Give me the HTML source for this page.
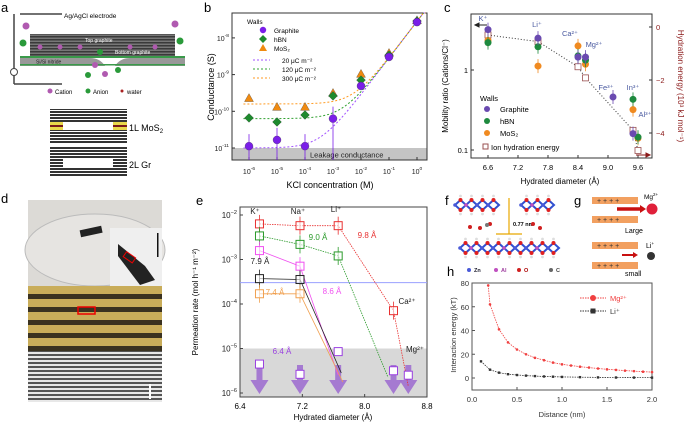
<!DOCTYPE html>
<html><head><meta charset="utf-8"><style>
html,body{margin:0;padding:0;background:#fff;}
svg{display:block;font-family:"Liberation Sans",sans-serif;}
text{font-family:"Liberation Sans",sans-serif;}
</style></head><body>
<svg id="fig" width="685" height="423" viewBox="0 0 685 423" xmlns="http://www.w3.org/2000/svg">
<defs>
<pattern id="stripes" width="4" height="3" patternUnits="userSpaceOnUse"><rect width="4" height="3" fill="#fff"/><rect width="4" height="2" fill="#333"/></pattern>
<pattern id="gstripes" width="3" height="3" patternUnits="userSpaceOnUse"><rect width="3" height="3" fill="#777"/><rect width="3" height="1.5" fill="#3a3a3a"/></pattern>
<pattern id="gold" width="134" height="13" patternUnits="userSpaceOnUse"><rect width="134" height="13" fill="#c9ad5a"/><rect y="8" width="134" height="5" fill="#3a3220"/></pattern>
<pattern id="sem" width="134" height="4" patternUnits="userSpaceOnUse"><rect width="134" height="4" fill="#e8e8e8"/><rect y="2" width="134" height="2" fill="#555"/></pattern>
</defs>

<g font-size="13">
<text x="1" y="12">a</text>
<text x="204" y="12">b</text>
<text x="444" y="12">c</text>
<text x="1" y="203">d</text>
<text x="196" y="205">e</text>
<text x="445" y="205">f</text>
<text x="574" y="205">g</text>
<text x="447" y="276">h</text>
</g>

<g>
<path d="M20,14 H62 M14,14 V84 M14,84 H62" stroke="#444" stroke-width="1.5" fill="none"/>
<text x="64" y="18" font-size="6.5">Ag/AgCl electrode</text>
<rect x="30" y="34" width="145" height="13" fill="url(#gstripes)"/>
<text x="85" y="42" font-size="5" fill="#fff">Top graphite</text>
<rect x="30" y="47" width="145" height="9" fill="url(#gstripes)"/>
<text x="115" y="54" font-size="5" fill="#fff">Bottom graphite</text>
<rect x="20" y="56" width="165" height="2" fill="#3a9a4a"/>
<path d="M20,58 H90 Q100,58 105,66 H20z M115,66 Q120,58 130,58 H185 V66z" fill="#999"/>
<rect x="20" y="64" width="165" height="1.5" fill="#3a9a4a"/>
<text x="36" y="63.5" font-size="5" fill="#222">Si/Si nitride</text>
<circle cx="14" cy="72" r="3.5" fill="#fff" stroke="#444"/>
<circle cx="26" cy="26" r="3.5" fill="#b05ab0"/><circle cx="175" cy="24" r="3.5" fill="#b05ab0"/>
<circle cx="23" cy="43" r="3.5" fill="#2a9a3a"/><circle cx="180" cy="41" r="3.5" fill="#2a9a3a"/>
<circle cx="100" cy="52" r="3" fill="#2a9a3a"/><circle cx="95" cy="65" r="3" fill="#b05ab0"/><circle cx="105" cy="74" r="3" fill="#b05ab0"/><circle cx="88" cy="75" r="3" fill="#2a9a3a"/><circle cx="118" cy="70" r="3" fill="#2a9a3a"/>
<g fill="#b05ab0"><circle cx="40" cy="47" r="2.5"/><circle cx="60" cy="47" r="2.5"/><circle cx="80" cy="47" r="2.5"/><circle cx="130" cy="47" r="2.5"/><circle cx="155" cy="47" r="2.5"/></g>
<circle cx="50" cy="91" r="2.5" fill="#b05ab0"/><text x="55" y="94" font-size="6">Cation</text>
<circle cx="88" cy="91" r="2.5" fill="#2a9a3a"/><text x="93" y="94" font-size="6">Anion</text>
<circle cx="122" cy="91" r="1.5" fill="#a22"/><text x="127" y="94" font-size="6">water</text>
<rect x="50" y="109" width="77" height="34" fill="url(#stripes)"/>
<rect x="63" y="122" width="50" height="8" fill="#fff"/>
<rect x="50" y="122" width="13" height="8" fill="#e8d84a"/><rect x="113" y="122" width="14" height="8" fill="#e8d84a"/>
<rect x="50" y="125" width="13" height="2" fill="#7a1a1a"/><rect x="113" y="125" width="14" height="2" fill="#7a1a1a"/>
<text x="129" y="131" font-size="9">1L MoS<tspan font-size="6" dy="2">2</tspan></text>
<rect x="50" y="147" width="77" height="30" fill="url(#stripes)"/>
<rect x="63" y="158" width="50" height="9" fill="#fff"/>
<text x="129" y="168" font-size="9">2L Gr</text>
</g>

<g>
<rect x="28" y="200" width="134" height="86" fill="#dcdad6"/>
<ellipse cx="95" cy="250" rx="70" ry="36" fill="#e6e4e1" stroke="#bbb"/>
<rect x="80" y="228" width="22" height="7" fill="#222" transform="rotate(-12 91 231)"/>
<rect x="110" y="228" width="52" height="58" fill="#efefef"/>
<path d="M118,244 L145,266 L155,280 L140,285 L118,256z" fill="#222"/>
<rect x="124" y="254" width="11" height="6" fill="none" stroke="#e00" stroke-width="1" transform="rotate(35 129 257)"/>
<rect x="157" y="233" width="1.5" height="24" fill="#111"/>
<rect x="28" y="286" width="134" height="65" fill="url(#gold)"/>
<rect x="78" y="307" width="17" height="7" fill="none" stroke="#e00" stroke-width="1.5"/>
<rect x="28" y="351" width="134" height="51" fill="url(#sem)"/>
<rect x="149" y="384" width="2" height="15" fill="#fff"/>
</g>

<g id="panelF">
<path d="M509,198 V234 M496,234 H522" stroke="#e8a800" stroke-width="1.2" fill="none"/>
<text x="513" y="226" font-size="5.5" font-family="Liberation Serif" font-weight="bold">0.77 nm</text>
<g font-size="5.5" font-family="Liberation Serif" font-weight="bold">
<circle cx="469" cy="270" r="2" fill="#4a5ad8"/><text x="474" y="272" fill="#223">Zn</text>
<circle cx="496" cy="270" r="2" fill="#c050c0"/><text x="501" y="272" fill="#a040a0">Al</text>
<circle cx="519" cy="270" r="2" fill="#d02020"/><text x="524" y="272" fill="#a00">O</text>
<circle cx="551" cy="270" r="2" fill="#666"/><text x="556" y="272" fill="#444">C</text>
</g>
</g>

<g font-size="7">
<rect x="592" y="197" width="46" height="7" fill="#f2a060"/>
<text x="597" y="203" font-size="7" fill="#333">+ + + +</text>
<rect x="592" y="216" width="46" height="7" fill="#f2a060"/>
<text x="597" y="222" font-size="7" fill="#333">+ + + +</text>
<path d="M617,209 H641" stroke="#c81010" stroke-width="3.5"/><path d="M640,205 L646,209 L640,213z" fill="#c81010"/>
<circle cx="652" cy="209" r="5.5" fill="#e0203a"/>
<text x="644" y="199" font-size="6.5">Mg<tspan font-size="4.5" dy="-3">2+</tspan></text>
<text x="625" y="233">Large</text>
<rect x="592" y="242" width="46" height="7" fill="#f2a060"/><text x="597" y="248" font-size="7" fill="#333">+ + + +</text>
<rect x="592" y="262" width="46" height="7" fill="#f2a060"/><text x="597" y="268" font-size="7" fill="#333">+ + + +</text>
<path d="M622,255 H634" stroke="#c81010" stroke-width="2"/><path d="M633,252 L638,255 L633,258z" fill="#c81010"/>
<circle cx="651" cy="256" r="4" fill="#333"/>
<text x="646" y="248">Li<tspan font-size="4.5" dy="-3">+</tspan></text>
<text x="625" y="276">small</text>
</g>

<g id="chartB"></g>
<g id="chartC"></g>
<g id="chartE"></g>
<g id="chartH"></g>
</svg>

<script>
// ---------- Panel b data ----------
const bConc = [-6, -5, -4, -3, -2, -1, 0];
const bGraphite = [-10.95, -10.78, -10.95, -10.2, -9.31, -8.52, -7.57];
const bHBN = [-10.18, -10.29, -10.1, -9.58, -9.15, -8.47, -7.54];
const bMoS2 = [-9.64, -9.88, -9.88, -9.5, -8.98, -8.41, -7.52];
const bModelBase = [-11, -10.2, -9.8];
const bModelLabels = ["20 \u03bcC m\u207b\u00b2", "120 \u03bcC m\u207b\u00b2", "300 \u03bcC m\u207b\u00b2"];
const bBulk = -7.55;
const bYTicks = [-11, -10, -9, -8];
const bXTicks = [-6, -5, -4, -3, -2, -1, 0];

// ---------- Panel c data ----------
const cIons = ["K\u207a", "Li\u207a", "Ca\u00b2\u207a", "Mg\u00b2\u207a", "Fe\u00b3\u207a", "In\u00b3\u207a", "Al\u00b3\u207a"];
const cGraphX = [6.6, 7.6, 8.4, 8.55, 9.1, 9.5];
const cGraphY = [3.2, 2.5, 1.45, 1.45, 0.46, 0.16];
const cHbnX = [6.6, 7.6, 8.4, 8.55, 9.5, 9.6];
const cHbnY = [2.2, 1.95, 1.5, 1.33, 0.43, 0.145];
const cMosX = [6.6, 7.6, 8.4, 8.55, 9.5, 9.6];
const cMosY = [2.35, 1.12, 2.0, 1.18, 0.32, 0.14];
const cHydX = [6.6, 7.6, 8.4, 8.55, 9.5, 9.6];
const cHydE = [-0.3, -0.55, -1.5, -1.92, -3.9, -4.66];
const cXTicks = [6.6, 7.2, 7.8, 8.4, 9.0, 9.6];

// ---------- Panel e data ----------
const eIonX = [6.65, 7.17, 7.66, 8.37, 8.56];
const eRedY = [-2.2, -2.24, -2.24, -4.15, -5.85];
const eGreenY = [-2.47, -2.66, -2.92, -5.65];
const eMagY = [-2.8, -3.15, -5.6];
const eBlackY = [-3.43, -3.45, -5.55];
const eOrangeY = [-3.77, -3.77, -5.75];
const ePurpleY = [-5.35, -5.58, -5.07, -5.5, -5.6];
const eRefLine = -3.52;
const eXTicks = [6.4, 7.2, 8.0, 8.8];
const eYTicks = [-6, -5, -4, -3, -2];

// ---------- Panel h data ----------
const hMgX = [0.18, 0.2, 0.3, 0.4, 0.5, 0.6, 0.7, 0.8, 0.9, 1.0, 1.1, 1.2, 1.3, 1.4, 1.5, 1.6, 1.7, 1.8, 1.9, 2.0];
const hMgY = [78, 62, 41, 30, 24, 20, 17, 15, 13, 11.5, 10.5, 9.5, 8.8, 8, 7.3, 6.8, 6.2, 5.8, 5.3, 5];
const hLiX = [0.1, 0.2, 0.3, 0.4, 0.5, 0.6, 0.7, 0.8, 0.9, 1.0, 1.2, 1.4, 1.6, 1.8, 2.0];
const hLiY = [14, 7, 4.5, 3.2, 2.5, 2, 1.6, 1.3, 1.1, 0.9, 0.7, 0.5, 0.4, 0.35, 0.3];
const hXTicks = [0, 0.5, 1.0, 1.5, 2.0];
const hYTicks = [0, 20, 40, 60, 80];

const NS = "http://www.w3.org/2000/svg";
function mk(parent, tag, attrs, txt) {
  const el = document.createElementNS(NS, tag);
  for (const k in attrs) el.setAttribute(k, attrs[k]);
  if (txt !== undefined) el.textContent = txt;
  parent.appendChild(el);
  return el;
}
function sup(parent, x, y, base, exp, size, anchor, fill) {
  const t = mk(parent, "text", {x: x, y: y, "font-size": size, "text-anchor": anchor || "middle", fill: fill || "#222"});
  
  
  mk(t, "tspan", {}, base);
  mk(t, "tspan", {dy: -4, "font-size": size * 0.7}, exp);
  return t;
}

// ===== Panel b =====
(function(){
  const g = document.getElementById("chartB");
  const L = 232, R = 427, T = 13, B = 160;
  const xs = v => 249 + (v + 6) * 28;
  const ys = v => 148 - (v + 11) * 36.7;
  const lk = mk(g, "rect", {x: L, y: 148, width: R - L, height: B - 148, fill: "#c4c4c4"});
  
  
  const lt = mk(g, "text", {x: 310, y: 157.5, "font-size": 7.5, fill: "#222"}, "Leakage conductance");
  
  
  const fr = mk(g, "rect", {x: L, y: T, width: R - L, height: B - T, fill: "none", stroke: "#333", "stroke-width": 1});
  
  
  bYTicks.forEach(v => { mk(g, "line", {x1: L, x2: L + 3, y1: ys(v), y2: ys(v), stroke: "#333"}); sup(g, L - 3, ys(v) + 3, "10", String(v), 7, "end"); });
  bXTicks.forEach(v => { mk(g, "line", {x1: xs(v), x2: xs(v), y1: B, y2: B - 3, stroke: "#333"}); sup(g, xs(v), 174, "10", String(v), 7, "middle"); });
  const yl = mk(g, "text", {x: 0, y: 0, "font-size": 9, "text-anchor": "middle", transform: "translate(214,87) rotate(-90)"}, "Conductance (S)");
  
  
  const xl = mk(g, "text", {x: 330, y: 188, "font-size": 9, "text-anchor": "middle"}, "KCl concentration (M)");
  
  
  const cols = ["#a050ff", "#30a030", "#ff9a20"];
  bModelBase.forEach((b, i) => {
    let d = "";
    for (let c = -6.2; c <= 0.3; c += 0.05) {
      const val = Math.log10(Math.pow(10, b) + Math.pow(10, bBulk + c));
      d += (d ? "L" : "M") + xs(c).toFixed(1) + "," + Math.max(T, ys(val)).toFixed(1);
    }
    const p = mk(g, "path", {d: d, fill: "none", stroke: cols[i], "stroke-width": 1, "stroke-dasharray": "2,2"});
    
    
  });
  function series(arr, color, shape, name) {
    arr.forEach((v, i) => {
      const x = xs(bConc[i]), y = ys(v);
      let el;
      if (shape === "c") el = mk(g, "circle", {cx: x, cy: y, r: 4, fill: color, stroke: "#333", "stroke-width": 0.3});
      else if (shape === "d") el = mk(g, "path", {d: `M${x},${y-4.5}L${x+4.5},${y}L${x},${y+4.5}L${x-4.5},${y}z`, fill: color, stroke: "#333", "stroke-width": 0.3});
      else el = mk(g, "path", {d: `M${x},${y-4.5}L${x+4.5},${y+3.5}L${x-4.5},${y+3.5}z`, fill: color, stroke: "#333", "stroke-width": 0.3});
      
      
    });
  }
  series(bMoS2, "#f08a10", "t", "mos2-point");
  series(bHBN, "#1e8a2e", "d", "hbn-point");
  series(bGraphite, "#7a1ee8", "c", "graphite-point");
  [0,1,2,3].forEach(i => { const x = xs(bConc[i]); mk(g, "line", {x1: x, x2: x, y1: ys(bGraphite[i]) - 12, y2: B, stroke: "#7a1ee8", "stroke-width": 0.8}); });
  const lg = mk(g, "g", {"font-size": 6.5});
  
  
  mk(lg, "text", {x: 247, y: 24}, "Walls");
  const names = ["Graphite", "hBN", "MoS\u2082"];
  const lc = ["#7a1ee8", "#1e8a2e", "#f08a10"];
  names.forEach((n, i) => {
    const y = 32 + i * 9;
    if (i === 0) mk(lg, "circle", {cx: 263, cy: y - 2, r: 3.2, fill: lc[i]});
    else if (i === 1) mk(lg, "path", {d: `M263,${y-6}L267,${y-2}L263,${y+2}L259,${y-2}z`, fill: lc[i]});
    else mk(lg, "path", {d: `M263,${y-6}L267,${y+1}L259,${y+1}z`, fill: lc[i]});
    const t = mk(lg, "text", {x: 274, y: y + 1}, n);
    
    
  });
  bModelLabels.forEach((n, i) => {
    const y = 62 + i * 9;
    mk(lg, "line", {x1: 253, x2: 270, y1: y - 2, y2: y - 2, stroke: cols[i], "stroke-dasharray": "2,2"});
    const t = mk(lg, "text", {x: 282, y: y + 1}, n);
    
    
  });
})();

// ===== Panel c =====
(function(){
  const g = document.getElementById("chartC");
  const L = 471, R = 652, T = 14, B = 158;
  const xs = v => 488 + (v - 6.6) / 0.6 * 30;
  const ys = v => 70 - 80 * Math.log10(v);
  const yr = v => 27 - v * 26.5;
  mk(g, "rect", {x: L, y: T, width: R - L, height: B - T, fill: "none", stroke: "#333"});
  cXTicks.forEach(v => { mk(g, "line", {x1: xs(v), x2: xs(v), y1: B, y2: B - 3, stroke: "#333"}); const t = mk(g, "text", {x: xs(v), y: 170, "font-size": 7.5, "text-anchor": "middle"}, v.toFixed(1));   });
  [1, 0.1].forEach(v => { mk(g, "line", {x1: L, x2: L + 3, y1: ys(v), y2: ys(v), stroke: "#333"}); const t = mk(g, "text", {x: L - 3, y: ys(v) + 3, "font-size": 7.5, "text-anchor": "end"}, String(v));   });
  [0, -2, -4].forEach(v => { mk(g, "line", {x1: R, x2: R - 3, y1: yr(v), y2: yr(v), stroke: "#333"}); const t = mk(g, "text", {x: R + 4, y: yr(v) + 3, "font-size": 7.5, fill: "#8b1a1a"}, v === 0 ? "0" : "\u2212" + (-v));   });
  const yl = mk(g, "text", {x: 0, y: 0, "font-size": 8, "text-anchor": "middle", transform: "translate(448,86) rotate(-90)"}, "Mobility ratio (Cations/Cl\u207b)");
   
  const yl2 = mk(g, "text", {x: 0, y: 0, "font-size": 8, "text-anchor": "middle", fill: "#8b1a1a", transform: "translate(678,86) rotate(90)"}, "Hydration energy (10\u00b3 kJ mol\u207b\u00b9)");
   
  const xl = mk(g, "text", {x: 560, y: 184, "font-size": 8, "text-anchor": "middle"}, "Hydrated diameter (\u00c5)");
   
  let d = "";
  cHydX.forEach((x, i) => { d += (i ? "L" : "M") + xs(x).toFixed(1) + "," + yr(cHydE[i]).toFixed(1); });
  const tr = mk(g, "path", {d: d, fill: "none", stroke: "#333", "stroke-width": 1, "stroke-dasharray": "1,2"});
   
  mk(g, "path", {d: "M475,25 H487 M475,25 l4,-2 v4z", stroke: "#222", fill: "#222"});
  mk(g, "path", {d: "M636,155 H650 M650,155 l-4,-2 v4z", stroke: "#8b1a1a", fill: "#8b1a1a"});
  cHydX.forEach((x, i) => { const s = mk(g, "rect", {x: xs(x) - 3, y: yr(cHydE[i]) - 3, width: 6, height: 6, fill: "#fff", stroke: "#9a5050", "stroke-width": 0.8});   });
  function pts(X, Y, col, name) { X.forEach((x, i) => { mk(g, "line", {x1: xs(x), x2: xs(x), y1: ys(Y[i]) - 7, y2: ys(Y[i]) + 7, stroke: col, "stroke-width": 0.8}); const c = mk(g, "circle", {cx: xs(x), cy: ys(Y[i]), r: 3.5, fill: col});   }); }
  pts(cMosX, cMosY, "#f08a20", "mos2-point");
  pts(cHbnX, cHbnY, "#1e8a3e", "hbn-point");
  pts(cGraphX, cGraphY, "#6a4ab0", "graphite-point");
  const labPos = [[483, 21], [537, 27], [570, 36], [594, 47], [606, 90], [633, 90], [645, 117]];
  cIons.forEach((n, i) => { const t = mk(g, "text", {x: labPos[i][0], y: labPos[i][1], "font-size": 7.5, fill: "#4a5aa0", "text-anchor": "middle"}, n);   });
  const lg = mk(g, "g", {"font-size": 7.5});  
  mk(lg, "text", {x: 480, y: 101}, "Walls");
  [["Graphite", "#6a4ab0"], ["hBN", "#1e8a3e"], ["MoS\u2082", "#f08a20"]].forEach((e, i) => { mk(lg, "circle", {cx: 487, cy: 109 + i * 12, r: 3, fill: e[1]}); const t = mk(lg, "text", {x: 500, y: 112 + i * 12}, e[0]);   });
  mk(lg, "rect", {x: 483, y: 144, width: 5, height: 5, fill: "#fff", stroke: "#9a5050"});
  const t = mk(lg, "text", {x: 491, y: 150}, "Ion hydration energy");  
})();

// ===== Panel e =====
(function(){
  const g = document.getElementById("chartE");
  const L = 240, R = 427, T = 207, B = 397;
  const xs = v => L + (v - 6.4) / 2.4 * (R - L);
  const ys = v => 393 - (v + 6) * 44.5;
  const band = mk(g, "rect", {x: L, y: ys(-5), width: R - L, height: B - ys(-5), fill: "#d8d8d8"});
   
  mk(g, "rect", {x: L, y: T, width: R - L, height: B - T, fill: "none", stroke: "#444"});
  const rl = mk(g, "line", {x1: L, x2: R, y1: ys(eRefLine), y2: ys(eRefLine), stroke: "#9aa0ff", "stroke-width": 1});
   
  eYTicks.forEach(v => { mk(g, "line", {x1: L, x2: L + 3, y1: ys(v), y2: ys(v), stroke: "#444"}); sup(g, L - 3, ys(v) + 3, "10", "\u2212" + (-v), 8, "end"); });
  eXTicks.forEach(v => { mk(g, "line", {x1: xs(v), x2: xs(v), y1: B, y2: B - 3, stroke: "#444"}); const t = mk(g, "text", {x: xs(v), y: 409, "font-size": 8, "text-anchor": "middle"}, v.toFixed(1));   });
  const yl = mk(g, "text", {x: 0, y: 0, "font-size": 8, "text-anchor": "middle", transform: "translate(198,302) rotate(-90)"}, "Permeation rate (mol h\u207b\u00b9 m\u207b\u00b2)");
   
  const xl = mk(g, "text", {x: 333, y: 420, "font-size": 8, "text-anchor": "middle"}, "Hydrated diameter (\u00c5)");
   
  ePurpleY.forEach((v, i) => { const x = xs(eIonX[i]); const a = mk(g, "path", {d: `M${x-3},${365}V${380}H${x-9}L${x},${394}L${x+9},${380}H${x+3}V${365}z`, fill: "#a070d0", opacity: 0.9});   });
  const serie = [[eRedY, "#e83030"], [eGreenY, "#2a9a2a"], [eMagY, "#f050f0"], [eBlackY, "#222"], [eOrangeY, "#f0a050"]];
  const lastX = [8.56, 8.3, 7.66, 7.7, 7.72];
  serie.forEach((s, si) => {
    const Y = s[0], col = s[1];
    let d = "";
    Y.forEach((v, i) => { const xv = i === Y.length - 1 && si > 0 ? lastX[si] : eIonX[i]; d += (i ? "L" : "M") + xs(xv).toFixed(1) + "," + ys(v).toFixed(1); });
    const p = mk(g, "path", {d: d, fill: "none", stroke: col, "stroke-width": 0.8, "stroke-dasharray": si < 2 ? "1.5,1" : "none"});
     
    Y.slice(0, Y.length - 1).forEach((v, i) => { const x = xs(eIonX[i]), y = ys(v);
      mk(g, "line", {x1: x, x2: x, y1: y - 9, y2: y + 9, stroke: col, "stroke-width": 0.8});
      const r = mk(g, "rect", {x: x - 4, y: y - 4, width: 8, height: 8, fill: "#fff", "fill-opacity": 0.6, stroke: col, "stroke-width": 1});
        });
  });
  ePurpleY.forEach((v, i) => { const r = mk(g, "rect", {x: xs(eIonX[i]) - 4, y: ys(v) - 4, width: 8, height: 8, fill: "#fff", stroke: "#9a40e0", "stroke-width": 1});   });
  const labs = [["9.8 \u00c5", 367, 238, "#e83030"], ["9.0 \u00c5", 318, 240, "#2a9a2a"], ["8.6 \u00c5", 332, 294, "#f050f0"], ["7.9 \u00c5", 260, 264, "#222"], ["7.4 \u00c5", 275, 295, "#f0a050"], ["6.4 \u00c5", 282, 354, "#9a40e0"], ["K\u207a", 255, 214, "#222"], ["Na\u207a", 298, 214, "#222"], ["Li\u207a", 336, 212, "#222"], ["Ca\u00b2\u207a", 407, 304, "#222"], ["Mg\u00b2\u207a", 415, 352, "#222"]];
  labs.forEach(l => { const t = mk(g, "text", {x: l[1], y: l[2], "font-size": 8, fill: l[3], "text-anchor": "middle"}, l[0]);   });
})();

// ===== Panel f atoms =====
(function(){
  const g = document.getElementById("panelF");
  [[205, 455, 9], [248, 460, 9]].forEach((row, ri) => {
    for (let k = 0; k < row[2]; k++) {
      const x0 = row[1] + k * 11;
      if (ri === 0 && (k === 4 || k === 5)) continue;
      mk(g, "path", {d: `M${x0},${row[0]}L${x0+5.5},${row[0]-5}L${x0+11},${row[0]}L${x0+5.5},${row[0]+5}z`, fill: "none", stroke: "#3050d0", "stroke-width": 2});
      mk(g, "circle", {cx: x0 + 5.5, cy: row[0] - 5, r: 2, fill: "#e02020"});
      mk(g, "circle", {cx: x0 + 5.5, cy: row[0] + 5, r: 2, fill: "#e02020"});
      mk(g, "circle", {cx: x0, cy: row[0], r: 1.8, fill: k % 3 === 1 ? "#c050c0" : "#4a5ad8"});
      mk(g, "circle", {cx: x0 + 5.5, cy: row[0] - 9, r: 1.4, fill: "#ddd"});
      mk(g, "circle", {cx: x0 + 5.5, cy: row[0] + 9, r: 1.4, fill: "#ddd"});
    }
  });
  [[480, 228], [490, 224], [533, 224], [540, 228], [470, 227]].forEach(p => mk(g, "circle", {cx: p[0], cy: p[1], r: 2, fill: "#d02020"}));
  mk(g, "circle", {cx: 487, cy: 225, r: 2, fill: "#777"});
})();

// ===== Panel h =====
(function(){
  const g = document.getElementById("chartH");
  const L = 472, R = 652, T = 283, B = 390;
  const xs = v => L + v / 2 * (R - L);
  const ys = v => 378 - v * 1.1875;
  mk(g, "rect", {x: L, y: T, width: R - L, height: B - T, fill: "none", stroke: "#555"});
  hYTicks.forEach(v => { mk(g, "line", {x1: L, x2: L + 3, y1: ys(v), y2: ys(v), stroke: "#555"}); const t = mk(g, "text", {x: L - 3, y: ys(v) + 3, "font-size": 7.5, "text-anchor": "end", fill: "#333"}, String(v));   });
  hXTicks.forEach(v => { mk(g, "line", {x1: xs(v), x2: xs(v), y1: B, y2: B - 3, stroke: "#555"}); const t = mk(g, "text", {x: xs(v), y: 402, "font-size": 7.5, "text-anchor": "middle", fill: "#333"}, v.toFixed(1));   });
  const yl = mk(g, "text", {x: 0, y: 0, "font-size": 7.5, "text-anchor": "middle", fill: "#333", transform: "translate(456,335) rotate(-90)"}, "Interaction energy (kT)");
   
  const xl = mk(g, "text", {x: 562, y: 417, "font-size": 7.5, "text-anchor": "middle", fill: "#333"}, "Distance (nm)");
   
  function line(X, Y, col, name, sq) {
    let d = ""; X.forEach((x, i) => { d += (i ? "L" : "M") + xs(x).toFixed(1) + "," + ys(Y[i]).toFixed(1); });
    const p = mk(g, "path", {d: d, fill: "none", stroke: col, "stroke-width": 0.8, "stroke-dasharray": "1.5,1"});
     
    X.forEach((x, i) => { const m = sq ? mk(g, "rect", {x: xs(x) - 1.2, y: ys(Y[i]) - 1.2, width: 2.4, height: 2.4, fill: col}) : mk(g, "circle", {cx: xs(x), cy: ys(Y[i]), r: 1.3, fill: col});   });
  }
  line(hMgX, hMgY, "#f04040", "mg-curve", false);
  line(hLiX, hLiY, "#333", "li-curve", true);
  const lg = mk(g, "g", {"font-size": 7.5});  
  mk(lg, "line", {x1: 580, x2: 606, y1: 298, y2: 298, stroke: "#f04040", "stroke-dasharray": "1.5,1"});
  mk(lg, "circle", {cx: 593, cy: 298, r: 3, fill: "#f04040"});
  const t1 = mk(lg, "text", {x: 610, y: 301, fill: "#f04040"}, "Mg\u00b2\u207a");  
  mk(lg, "line", {x1: 580, x2: 606, y1: 311, y2: 311, stroke: "#333", "stroke-dasharray": "1.5,1"});
  mk(lg, "rect", {x: 590.5, y: 308.5, width: 5, height: 5, fill: "#333"});
  const t2 = mk(lg, "text", {x: 610, y: 314, fill: "#333"}, "Li\u207a");  
})();
</script>
</body></html>
